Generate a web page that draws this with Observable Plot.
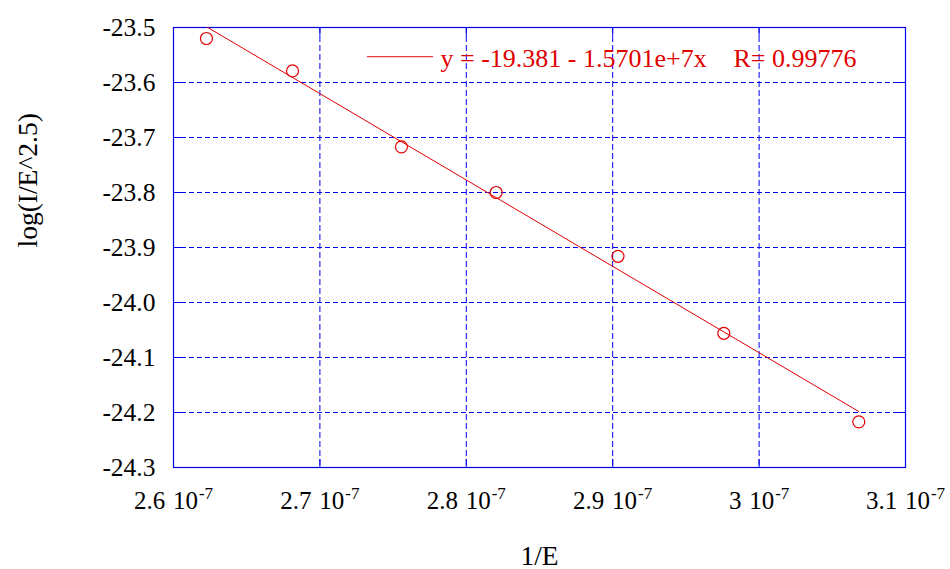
<!DOCTYPE html>
<html>
<head>
<meta charset="utf-8">
<script src="https://cdn.jsdelivr.net/npm/d3@7"></script>
<script src="https://cdn.jsdelivr.net/npm/@observablehq/plot@0.6"></script>
<style>
  html, body { margin: 0; padding: 0; background: #fff; }
  #chart { width: 950px; height: 569px; }
  #chart svg, #chart svg text { font-family: "Liberation Serif", "Times New Roman", serif !important; }
</style>
</head>
<body>
<div id="chart"></div>
<script>
// ---- data ----
const invE = [2.6225e-7, 2.6813e-7, 2.7557e-7, 2.8204e-7, 2.9036e-7, 2.9759e-7, 3.0681e-7];
const logIE = [-23.520, -23.579, -23.717, -23.800, -23.916, -24.056, -24.217];

// fit shown in the legend
const fitIntercept = -19.381;
const fitSlope = -1.5701e7;
const fitR = 0.99776;
const fitEquation = "y = -19.381 - 1.5701e+7x";
const fitRLabel = "R= 0.99776";

// axis ticks
const xTicks = [2.6e-7, 2.7e-7, 2.8e-7, 2.9e-7, 3.0e-7, 3.1e-7];
const xTickMantissas = ["2.6", "2.7", "2.8", "2.9", "3", "3.1"];
const xTickBase = "10";
const xTickExponent = "-7";
const yTicks = [-23.5, -23.6, -23.7, -23.8, -23.9, -24.0, -24.1, -24.2, -24.3];
const yTickLabels = ["-23.5", "-23.6", "-23.7", "-23.8", "-23.9", "-24.0", "-24.1", "-24.2", "-24.3"];
const xLabel = "1/E";
const yLabel = "log(I/E^2.5)";

// ---- build ----
const points = invE.map((x, i) => ({x, y: logIE[i]}));
const xMin = d3.min(invE), xMax = d3.max(invE);
const fitLine = [xMin, xMax].map(x => ({x, y: fitIntercept + fitSlope * x}));

const BLUE = "#0000ee";
const RED = "#e00000";
const FONT = "'Liberation Serif', 'Times New Roman', serif";

const plot = Plot.plot({
  width: 950,
  height: 569,
  marginLeft: 173,
  marginRight: 45,
  marginTop: 27,
  marginBottom: 102,
  style: {fontFamily: FONT, color: "#000", background: "#fff", overflow: "visible"},
  x: {type: "linear", domain: [2.6e-7, 3.1e-7]},
  y: {type: "linear", domain: [-24.3, -23.5]},
  marks: [
    Plot.gridY(yTicks, {stroke: BLUE, strokeOpacity: 1, strokeDasharray: "5,3"}),
    Plot.gridX(xTicks, {stroke: BLUE, strokeOpacity: 1, strokeDasharray: "6,3"}),
    Plot.frame({stroke: BLUE, strokeWidth: 1.2}),
    // inward tick marks
    Plot.axisY(yTicks, {anchor: "left", tickSize: -8, stroke: BLUE, tickFormat: () => "", label: null}),
    Plot.axisY(yTicks, {anchor: "right", tickSize: -8, stroke: BLUE, tickFormat: () => "", label: null}),
    Plot.axisX(xTicks, {anchor: "bottom", tickSize: -8, stroke: BLUE, tickFormat: () => "", label: null}),
    Plot.axisX(xTicks, {anchor: "top", tickSize: -8, stroke: BLUE, tickFormat: () => "", label: null}),
    // y tick labels
    Plot.axisY(yTicks, {
      anchor: "left", tickSize: 0, tickPadding: 18, label: null,
      tickFormat: d => yTickLabels[yTicks.indexOf(d)],
      fontSize: 25.5, fontFamily: FONT, fill: "#000"
    }),
    // x tick labels (mantissa; " 10" and the superscript exponent are added below)
    Plot.text(xTicks, {
      x: d => d, frameAnchor: "bottom", text: d => xTickMantissas[xTicks.indexOf(d)],
      textAnchor: "middle", lineAnchor: "bottom", dy: 41.5, fontSize: 25, fontFamily: FONT, fill: "#000"
    }),
    // axis titles
    Plot.text([xLabel], {frameAnchor: "bottom", text: d => d, lineAnchor: "bottom", dy: 97, fontSize: 27.5, fontFamily: FONT, fill: "#000"}),
    Plot.text([yLabel], {frameAnchor: "left", text: d => d, rotate: -90, lineAnchor: "middle", dx: -145, fontSize: 27.5, fontFamily: FONT, fill: "#000"}),
    // fit line and data points
    Plot.line(fitLine, {x: "x", y: "y", stroke: RED, strokeWidth: 1, clip: true}),
    Plot.dot(points, {x: "x", y: "y", r: 6, stroke: RED, strokeWidth: 1.2, fill: "none"}),
    // legend texts
    Plot.text([fitEquation], {
      frameAnchor: "top-left", text: d => d, textAnchor: "start", lineAnchor: "bottom",
      dx: 267, dy: 39.7, fontSize: 26, fontFamily: FONT, fill: RED
    }),
    Plot.text([fitRLabel], {
      frameAnchor: "top-left", text: d => d, textAnchor: "start", lineAnchor: "bottom",
      dx: 560, dy: 39.7, fontSize: 26, fontFamily: FONT, fill: RED
    })
  ]
});

const svg = d3.select(plot);

// x tick labels: "mantissa 10" with a superscript exponent, centred as a whole on the tick
svg.selectAll("text")
  .filter(function() { return xTickMantissas.includes(this.textContent); })
  .each(function() {
    const t = d3.select(this);
    const mantissa = this.textContent;
    t.text("");
    t.append("tspan").text(mantissa);
    t.append("tspan").attr("dx", 1.5).text(" " + xTickBase);
    t.append("tspan").attr("dx", 1).attr("dy", -10.2).attr("font-size", 17).text(xTickExponent);
  });

// legend swatch line (placed relative to the plot frame)
const fx = 173, fy = 27;
svg.append("line")
  .attr("x1", fx + 194).attr("x2", fx + 260)
  .attr("y1", fy + 29.7).attr("y2", fy + 29.7)
  .attr("stroke", RED).attr("stroke-width", 1.3).attr("stroke-opacity", 0.75);

document.getElementById("chart").appendChild(plot);
</script>
</body>
</html>
